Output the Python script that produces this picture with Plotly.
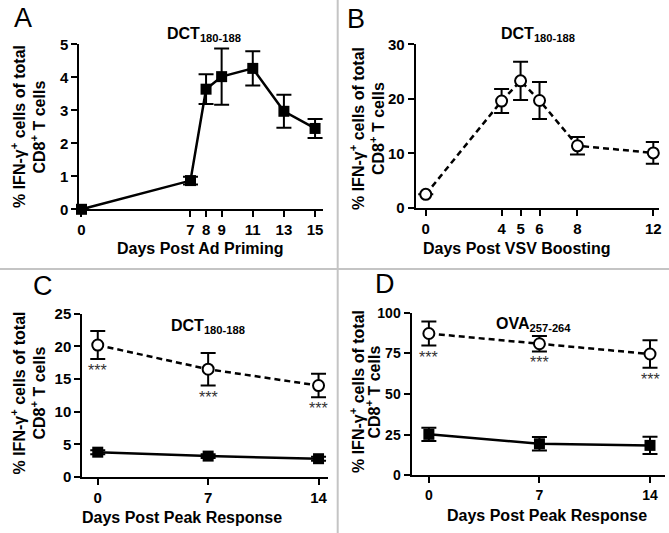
import plotly.graph_objects as go

W, H = 669, 533

# ---------------- data ----------------
a_days = [0, 7, 8, 9, 11, 13, 15]
a_vals = [0.0, 0.87, 3.64, 4.02, 4.27, 2.97, 2.45]
a_err = [0.0, 0.12, 0.45, 0.85, 0.52, 0.50, 0.29]

b_days = [0, 4, 5, 6, 8, 12]
b_vals = [2.5, 19.6, 23.3, 19.7, 11.4, 10.1]
b_err = [0.0, 2.2, 3.5, 3.4, 1.6, 2.0]

c_days = [0, 7, 14]
c_boost = [20.2, 16.5, 14.0]
c_boost_err = [2.15, 2.5, 1.8]
c_prime = [3.8, 3.2, 2.8]
c_prime_err = [0.3, 0.3, 0.3]

d_days = [0, 7, 14]
d_boost = [87.2, 80.9, 74.6]
d_boost_err = [7.4, 4.7, 8.4]
d_prime = [25.2, 19.4, 18.4]
d_prime_err = [4.1, 4.2, 5.3]

a_xticks = [0, 7, 8, 9, 11, 13, 15]
b_xticks = [0, 4, 5, 6, 8, 12]
cd_xticks = [0, 7, 14]
a_yticks = [0, 1, 2, 3, 4, 5]
b_yticks = [0, 10, 20, 30]
c_yticks = [0, 5, 10, 15, 20, 25]
d_yticks = [0, 25, 50, 75, 100]

FONT = "Liberation Sans"


def px(x):
    return x / W


def py(y):
    return 1 - y / H


fig = go.Figure()


def solid(x, y, e, xa, ya):
    fig.add_trace(go.Scatter(
        x=x, y=y, xaxis=xa, yaxis=ya, mode="lines+markers", cliponaxis=False,
        line=dict(color="black", width=2.5),
        marker=dict(symbol="square", size=11, color="black"),
        error_y=dict(type="data", array=e, color="black", thickness=2, width=7.5),
        showlegend=False, hoverinfo="skip"))


def dashed(x, y, e, xa, ya):
    fig.add_trace(go.Scatter(
        x=x, y=y, xaxis=xa, yaxis=ya, mode="lines+markers", cliponaxis=False,
        line=dict(color="black", width=2.5, dash="6px,4px"),
        marker=dict(symbol="circle", size=11, color="white",
                    line=dict(color="black", width=2)),
        error_y=dict(type="data", array=e, color="black", thickness=2, width=7.5),
        showlegend=False, hoverinfo="skip"))


solid(a_days, a_vals, a_err, "x", "y")
dashed(b_days, b_vals, b_err, "x2", "y2")
dashed(c_days, c_boost, c_boost_err, "x3", "y3")
solid(c_days, c_prime, c_prime_err, "x3", "y3")
dashed(d_days, d_boost, d_boost_err, "x4", "y4")
solid(d_days, d_prime, d_prime_err, "x4", "y4")

axcommon = dict(showline=True, linecolor="black", linewidth=2, ticks="outside",
                ticklen=6, tickwidth=2, tickcolor="black", showgrid=False,
                zeroline=False, fixedrange=True, automargin=False)

panels = [
    # (xdom px, ydom px, xrange, yrange, xticks, yticks, tick font size)
    ((79.3, 323), (44.3, 209.3), [-0.14, 15.51], [0, 5], a_xticks, a_yticks, 15),
    ((415.7, 659), (44.3, 208), [-0.53, 12.3], [0, 30], b_xticks, b_yticks, 15),
    ((82.3, 328), (313.7, 477), [-0.98, 14.6], [0, 25], cd_xticks, c_yticks, 15),
    ((411.5, 665), (312.7, 475.3), [-1.1, 14.95], [0, 100], cd_xticks, d_yticks, 14),
]
lay = {}
for i, (xd, yd, xr, yr, xt, yt, fs) in enumerate(panels):
    s = "" if i == 0 else str(i + 1)
    tf = dict(family=FONT, size=fs, color="black", weight="bold")
    lay["xaxis" + s] = dict(axcommon, domain=[px(xd[0]), px(xd[1])], range=xr,
                            tickvals=xt, anchor="y" + s, tickfont=tf)
    lay["yaxis" + s] = dict(axcommon, domain=[py(yd[1]), py(yd[0])], range=yr,
                            tickvals=yt, anchor="x" + s, tickfont=tf)

ann = []


def text(x, y, t, size, bold=True, angle=0, color="black"):
    ann.append(dict(x=px(x), y=py(y), xref="paper", yref="paper", text=t,
                    showarrow=False, textangle=angle, xanchor="center",
                    yanchor="middle",
                    font=dict(family=FONT, size=size, color=color,
                              weight="bold" if bold else "normal")))


yline1 = "% IFN-γ<sup>+</sup> cells of total"
yline2 = "CD8<sup>+</sup> T cells"
for (x1, x2, y) in [(18, 38.5, 127), (357, 377, 129), (18.5, 38.5, 393), (357, 373.5, 392)]:
    text(x1, y, yline1, 16, angle=-90)
    text(x2, y, yline2, 16, angle=-90)

for (x, y, t) in [(200, 248, "Days Post Ad Priming"), (517, 248, "Days Post VSV Boosting"),
                  (182, 517, "Days Post Peak Response"), (547, 515, "Days Post Peak Response")]:
    text(x, y, t, 16)

for (x, y, t) in [(204, 35, "DCT<sub>180-188</sub>"), (538, 35, "DCT<sub>180-188</sub>"),
                  (208, 326, "DCT<sub>180-188</sub>"), (533, 324, "OVA<sub>257-264</sub>")]:
    text(x, y, t, 16)

for (x, y, t) in [(23, 18, "A"), (356, 19, "B"), (43, 286, "C"), (385, 284, "D")]:
    text(x, y, t, 27, bold=False)

# significance stars
for xa, ya, xs, ys in [("x3", "y3", c_days, [b - e for b, e in zip(c_boost, c_boost_err)]),
                       ("x4", "y4", d_days, [b - e for b, e in zip(d_boost, d_boost_err)])]:
    for xv, yv in zip(xs, ys):
        ann.append(dict(x=xv, y=yv, xref=xa, yref=ya, text="***", showarrow=False,
                        xanchor="center", yanchor="top", yshift=-1,
                        font=dict(family=FONT, size=16, color="#333333")))

shapes = [
    dict(type="line", xref="paper", yref="paper", x0=px(337.7), x1=px(337.7), y0=0, y1=1,
         line=dict(color="#c4c4c4", width=2)),
    dict(type="line", xref="paper", yref="paper", x0=0, x1=1, y0=py(269), y1=py(269),
         line=dict(color="#c4c4c4", width=2)),
]

fig.update_layout(width=W, height=H, margin=dict(l=0, r=0, t=0, b=0, pad=0),
                  paper_bgcolor="white", plot_bgcolor="white", template="none",
                  annotations=ann, shapes=shapes, **lay)

fig.write_html("out.html", config={"displayModeBar": False},
               post_script="document.body.style.margin='0';document.body.style.overflow='hidden';")
